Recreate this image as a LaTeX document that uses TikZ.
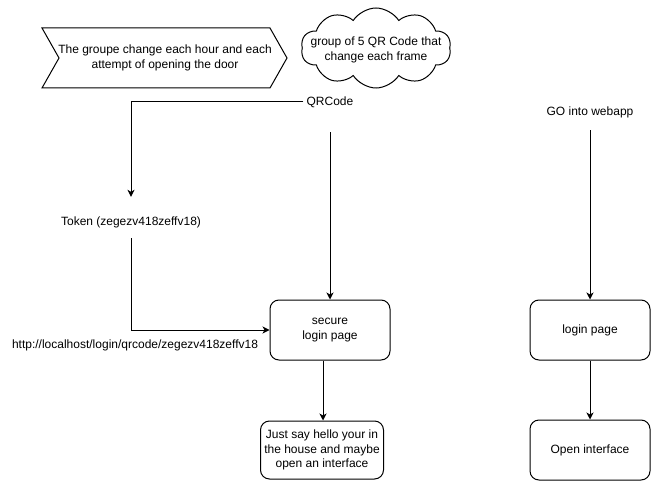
\documentclass[tikz,border=0pt]{standalone}
\usepackage{fontspec}
\setmainfont{Liberation Sans}
\usetikzlibrary{arrows.meta,shapes.symbols,calc}

\begin{document}
\begin{tikzpicture}[x=1pt,y=-1pt,
  every node/.style={font=\fontsize{12}{14.4}\selectfont, align=center},
  lbl/.style={inner sep=3pt},
  pagebox/.style={draw, line width=1pt, rounded corners=9pt,
                  minimum width=120pt, minimum height=60pt, inner sep=2pt},
  flow/.style={line width=1pt, -{Stealth[length=7pt,width=7pt,inset=2pt]}},
  plain/.style={line width=1pt}]

  \useasboundingbox (0,0) rectangle (655,481);

  % chevron note
  \coordinate (c1) at (42,28);
  \coordinate (c2) at (270,28);
  \coordinate (c3) at (287,58);
  \coordinate (c4) at (270,88);
  \coordinate (c5) at (42,88);
  \coordinate (c6) at (59,58);
  \draw[plain, line join=miter] (c1) -- (c2) -- (c3) -- (c4) -- (c5) -- (c6) -- cycle;
  \node (note) at (165,58) {The groupe change each hour and each\\attempt of opening the door};

  % cloud
  \node[draw, line width=1pt, cloud, cloud puffs=10, cloud puff arc=115,
        cloud ignores aspect, minimum width=150pt, minimum height=80pt, inner sep=0pt]
        (group) at (376,48) {};
  \node at (376,50) {group of 5 QR Code that\\change each frame};

  % left column
  \node[lbl, minimum height=60pt] (qr) at (330,102) {QRCode};
  \node[lbl, minimum height=50pt] (tok) at (131,222) {Token (zegezv418zeffv18)};
  \node[pagebox] (sec) at (330,330) {secure\\login page};
  \node[pagebox, minimum width=123pt, minimum height=58pt] (hello) at (322,450)
        {Just say hello your in\\the house and maybe\\open an interface};
  \node[lbl] (url) at (135,345) {http://localhost/login/qrcode/zegezv418zeffv18};

  \draw[flow] (qr.west) -| (tok.north);
  \draw[flow, shorten <=-9pt] (tok.south) |- (sec.west);
  \draw[flow] (qr.south) -- (sec.north);
  \draw[flow] ($(sec.south)+(-7,0)$) -- (hello.north -| {$(sec.south)+(-7,0)$});

  % right column
  \node[lbl, minimum height=36pt] (go) at (590,112) {GO into webapp};
  \node[pagebox] (login) at (590,330) {login page};
  \node[pagebox] (open) at (590,450) {Open interface};

  \draw[flow] (go.south) -- (login.north);
  \draw[flow] (login.south) -- (open.north);
\end{tikzpicture}
\end{document}
